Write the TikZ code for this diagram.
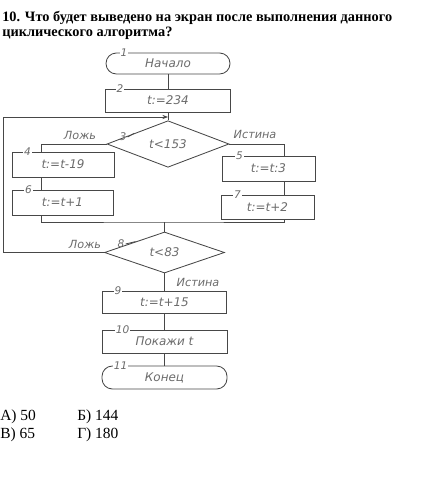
\documentclass[tikz,border=0pt]{standalone}
\usepackage{fontspec}
\setmainfont{Liberation Serif}
\newfontfamily\handfont{DejaVu Sans}
\usepackage{tikz}
\usetikzlibrary{positioning, arrows.meta, shapes.geometric, calc}
\usepackage{xcolor}
\definecolor{inkline}{gray}{0.28}
\definecolor{inktext}{gray}{0.42}

\tikzset{
    block/.style={draw=inkline, line width=0.6pt, rectangle, inner sep=0pt,
        font=\handfont\itshape\fontsize{8.5}{10}\selectfont, text=inktext},
    term/.style={block, rounded corners=2.6mm},
    cond/.style={block, diamond},
    num/.style={fill=white, inner sep=0.7pt,
        font=\handfont\itshape\fontsize{7.5}{8}\selectfont, text=inktext},
    branch/.style={font=\handfont\itshape\fontsize{8}{9}\selectfont, text=inktext},
    flow/.style={draw=inkline, line width=0.6pt},
    ans/.style={anchor=base west, inner sep=0pt, font=\fontsize{11}{13}\selectfont},
}

\begin{document}
\begin{tikzpicture}[x=0.25mm, y=-0.25mm]
    \useasboundingbox (0,0) rectangle (420,477);

    % Question
    \node[anchor=base west, inner sep=0pt, font=\bfseries\fontsize{10.2}{12}\selectfont] (q1) at (2,21.5)
        {10. Что будет выведено на экран после выполнения данного};
    \node[anchor=base west, inner sep=0pt, font=\bfseries\fontsize{10.2}{12}\selectfont] (q2) at (2,37)
        {циклического алгоритма?};

    % Blocks of the algorithm
    \node[term, minimum width=31mm, minimum height=5.25mm] (s1) at (168,63.5) {Начало};
    \node[block, minimum width=31.25mm, minimum height=5.75mm] (b2) at (168,100.5) {t:=234};
    \node[cond, minimum width=30.5mm, minimum height=10.5mm] (d3) at (168,144) {t<153};
    \node[block, minimum width=25.5mm, minimum height=6.25mm] (b4) at (63,164.5) {t:=t-19};
    \node[block, minimum width=25.25mm, minimum height=6.25mm] (b6) at (62.5,202.5) {t:=t+1};
    \node[block, minimum width=23.25mm, minimum height=6.25mm] (b5) at (268.5,168.5) {t:=t:3};
    \node[block, minimum width=23.25mm, minimum height=6mm] (b7) at (267.5,207) {t:=t+2};
    \node[cond, minimum width=30mm, minimum height=10.25mm] (d8) at (164.5,252.5) {t<83};
    \node[block, minimum width=31mm, minimum height=5.5mm] (b9) at (164.5,302) {t:=t+15};
    \node[block, minimum width=31.25mm, minimum height=5.75mm] (b10) at (164.5,341.5) {Покажи t};
    \node[term, minimum width=31.25mm, minimum height=5.75mm] (e11) at (164.5,377.5) {Конец};

    % Block numbers
    \node[num] (n1) at ($(s1.north west)+(18.5,0)$) {1};
    \node[num] (n2) at ($(b2.north west)+(15,0)$) {2};
    \node[num] (n4) at ($(b4.north west)+(16,0)$) {4};
    \node[num] (n6) at ($(b6.north west)+(17,0)$) {6};
    \node[num] (n5) at ($(b5.north west)+(18,0)$) {5};
    \node[num] (n7) at ($(b7.north west)+(17,0)$) {7};
    \node[num] (n9) at ($(b9.north west)+(16,0)$) {9};
    \node[num] (n10) at ($(b10.north west)+(21,0)$) {10};
    \node[num] (n11) at ($(e11.north west)+(19,0)$) {11};
    \node[num, fill=none] (n3) at (123,137) {3};
    \node[num, fill=none] (n8) at (121,244) {8};
    \draw[flow] (n3.east) -- ($(d3.west)!0.45!(d3.north)$);
    \draw[flow] (n8.east) -- ($(d8.west)!0.52!(d8.north)$);

    % Branch labels
    \node[branch] (f3) at (80,135) {Ложь};
    \node[branch] (t3) at (255,134) {Истина};
    \node[branch] (f8) at (85,244) {Ложь};
    \node[branch] (t8) at (198,282) {Истина};

    % Columns and joints
    \coordinate (lcol) at (41,0);
    \coordinate (rcol) at (284,0);
    \coordinate (join) at (164.5,222);
    \coordinate (ret) at (168,117);
    \coordinate (edge) at (3,0);

    % Connectors
    \draw[flow] (s1) -- (b2);
    \draw[flow] (b2) -- (d3);
    \draw[flow] (d3.west) -| (lcol |- b4.north);
    \draw[flow] (lcol |- b4.south) -- (lcol |- b6.north);
    \draw[flow] (d3.east) -| (rcol |- b5.north);
    \draw[flow] (rcol |- b5.south) -- (rcol |- b7.north);
    \draw[flow] (lcol |- b6.south) |- (join) -| (rcol |- b7.south);
    \draw[flow] (join) -- (d8.north);
    \draw[flow, -{Stealth[length=4pt, width=3pt]}] (d8.west) -| (edge |- ret) -- (ret);
    \draw[flow] (d8) -- (b9);
    \draw[flow] (b9) -- (b10);
    \draw[flow] (b10) -- (e11);

    % Answers
    \node[ans] (a1) at (0,420) {А) 50};
    \node[ans] (a2) at (77,420) {Б) 144};
    \node[ans] (a3) at (0,438) {В) 65};
    \node[ans] (a4) at (77,438) {Г) 180};
\end{tikzpicture}
\end{document}
